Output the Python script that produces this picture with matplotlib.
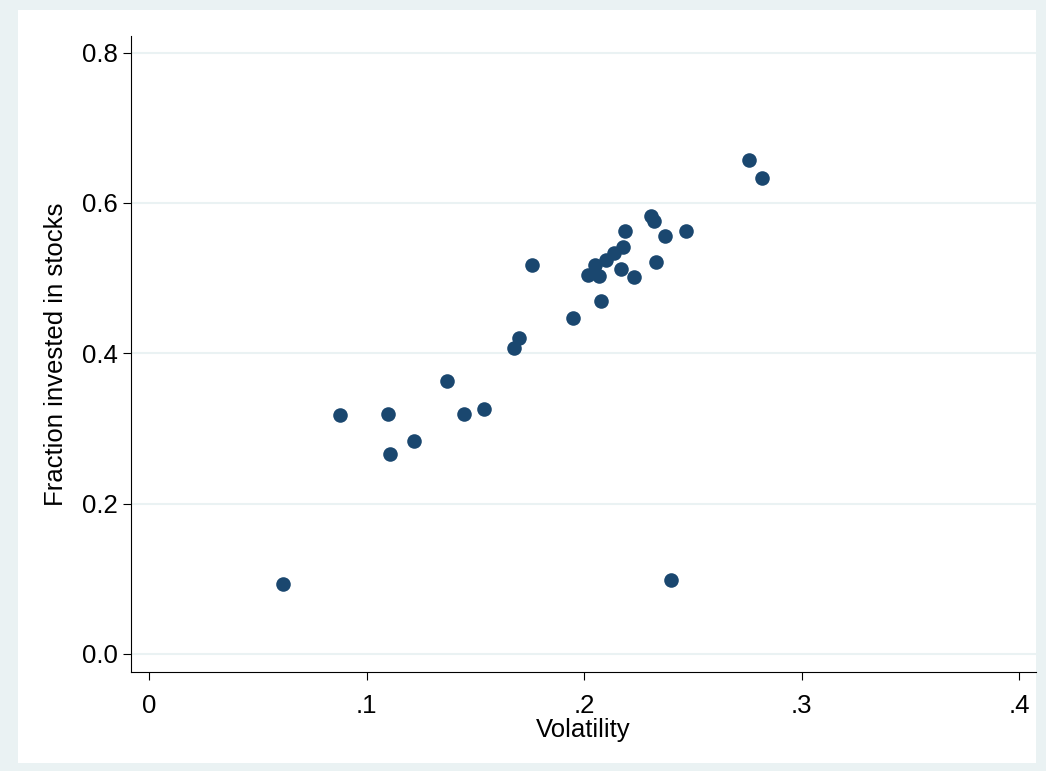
import matplotlib.pyplot as plt
from matplotlib.patches import Rectangle

plt.rcParams["font.family"] = ["Liberation Sans", "DejaVu Sans"]

volatility = [0.0616, 0.0878, 0.110, 0.111, 0.122, 0.137, 0.145, 0.154, 0.168, 0.170,
              0.176, 0.195, 0.202, 0.205, 0.207, 0.208, 0.210, 0.214, 0.217, 0.218,
              0.219, 0.223, 0.231, 0.232, 0.233, 0.237, 0.240, 0.247, 0.276, 0.282]
fraction = [0.093, 0.318, 0.319, 0.266, 0.283, 0.363, 0.319, 0.326, 0.407, 0.420,
            0.517, 0.447, 0.504, 0.517, 0.503, 0.469, 0.524, 0.533, 0.512, 0.541,
            0.562, 0.501, 0.582, 0.576, 0.521, 0.556, 0.098, 0.562, 0.657, 0.633]
xticks = [0, 0.1, 0.2, 0.3, 0.4]
xlabels = ["0", ".1", ".2", ".3", ".4"]
yticks = [0.0, 0.2, 0.4, 0.6, 0.8]

fig = plt.figure(figsize=(10.46, 7.71), dpi=100)
fig.patch.set_facecolor("#EAF2F3")
fig.patches.append(Rectangle((18/1046, 1-763/771), (1036-18)/1046, (763-10)/771,
                             transform=fig.transFigure, facecolor="white", edgecolor="none", zorder=-10))
ax = fig.add_axes([131/1046, 1-672/771, (1036-131)/1046, (672-36)/771])
ax.set_zorder(5)
ax.set_facecolor("white")
ax.scatter(volatility, fraction, s=110, color="#1A476F", zorder=3, linewidths=0)
ax.set_xlim(-0.0083, 0.4078)
ax.set_ylim(-0.024, 0.822)
ax.set_xticks(xticks)
ax.set_xticklabels(xlabels)
ax.set_yticks(yticks)
ax.set_yticklabels([f"{v:.1f}" for v in yticks])
ax.tick_params(labelsize=18.5, length=6, direction="out")
ax.tick_params(axis="x", pad=10)
ax.grid(axis="y", color="#EAF2F3", lw=1.5, zorder=0)
for s in ["top", "right"]:
    ax.spines[s].set_visible(False)
ax.set_xlabel("Volatility", fontsize=18.5, labelpad=0)
ax.set_ylabel("Fraction invested in stocks", fontsize=18.5, labelpad=10)
fig.savefig("out.png", dpi=100, facecolor=fig.get_facecolor())
